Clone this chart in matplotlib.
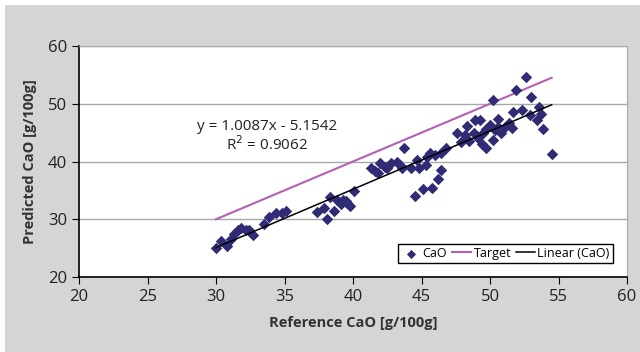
import matplotlib
matplotlib.use("Agg")
import matplotlib.pyplot as plt
from matplotlib.patches import Rectangle
import numpy as np

ref_cao = [30.0, 30.4, 30.8, 31.1, 31.3, 31.6, 31.8, 32.2, 32.4, 32.7, 33.5, 33.9, 34.4, 34.8, 35.1,
           37.4, 37.9, 38.1, 38.3, 38.6, 38.8, 39.1, 39.3, 39.5, 39.6, 39.8, 40.1,
           41.3, 41.6, 41.8, 42.0, 42.3, 42.5, 42.8, 43.2, 43.4, 43.7, 43.6, 44.2, 44.5, 44.7, 44.8,
           45.1, 45.3, 45.4, 45.6, 45.8, 46.0, 46.2, 46.4, 46.4, 46.8,
           47.6, 47.9, 48.2, 48.3, 48.5, 48.8, 48.9, 49.1, 49.3, 49.4, 49.5, 49.7, 49.7, 50.0,
           50.2, 50.2, 50.4, 50.6, 50.6, 50.8, 51.1, 51.4, 51.6, 51.7, 51.9, 52.3, 52.6, 52.9,
           53.0, 53.4, 53.6, 53.7, 53.9, 54.5]
pred_cao = [25.1, 26.2, 25.4, 26.5, 27.5, 28.1, 28.5, 28.2, 28.1, 27.2, 29.1, 30.4, 31.0, 31.0, 31.4,
            31.2, 32.0, 30.0, 33.9, 31.4, 33.3, 32.7, 33.4, 33.1, 32.6, 32.3, 34.9,
            38.8, 38.4, 38.0, 39.7, 39.1, 38.8, 39.7, 39.9, 39.4, 42.4, 38.8, 38.8, 34.0, 40.3, 38.9,
            35.3, 39.4, 40.8, 41.4, 35.4, 41.2, 36.9, 38.6, 41.4, 42.3,
            45.0, 43.4, 44.6, 46.1, 43.6, 44.9, 47.1, 44.0, 47.1, 43.0, 45.0, 42.3, 45.7, 46.3,
            43.8, 50.6, 45.4, 47.3, 45.9, 45.0, 46.0, 46.7, 45.8, 48.6, 52.4, 48.9, 54.6, 48.0,
            51.2, 47.1, 49.5, 48.3, 45.7, 41.3]

target_x = [30, 54.5]
fit_slope = 1.0087
fit_intercept = -5.1542
x_ticks = [20, 25, 30, 35, 40, 45, 50, 55, 60]
y_ticks = [20, 30, 40, 50, 60]

plt.rcParams['font.family'] = ['Open Sans', 'DejaVu Sans']

fig = plt.figure(figsize=(6.4, 3.52), dpi=100)
fig.patches.append(Rectangle((5/640, 0), 1, 1 - 5/352, transform=fig.transFigure,
                             facecolor='#d4d5d7', edgecolor='none', zorder=-10))
ax = fig.add_axes([79/640, 1 - 277/352, 548/640, 231/352])
ax.set_facecolor('white')

ax.set_xlim(20, 60)
ax.set_ylim(20, 60)
ax.set_xticks(x_ticks)
ax.set_yticks(y_ticks)
ax.yaxis.grid(True, color='#a8a8a8', linewidth=1)
ax.set_axisbelow(True)

ax.scatter(ref_cao, pred_cao, marker='D', s=34, color='#2f2b74', zorder=3, label='CaO', linewidths=0)
tx = np.array(target_x)
ax.plot(tx, tx, color='#b45fb4', linewidth=1.5, label='Target', zorder=2)
ax.plot(tx, fit_slope * tx + fit_intercept, color='black', linewidth=1.1, label='Linear (CaO)', zorder=4)

ax.text(33.7, 46.0, 'y = 1.0087x - 5.1542', ha='center', va='center', fontsize=11, color='#222222')
ax.text(33.7, 43.0, r'R$^2$ = 0.9062', ha='center', va='center', fontsize=11, color='#222222')

for s in ['top', 'right']:
    ax.spines[s].set_color('#a8a8a8')
for s in ['left', 'bottom']:
    ax.spines[s].set_color('black')
    ax.spines[s].set_linewidth(1.2)
ax.tick_params(axis='both', direction='out', length=5, labelsize=12, colors='black',
               labelcolor='#222222')

ax.set_xlabel('Reference CaO [g/100g]', fontsize=10.5, fontweight='bold', color='#333333', labelpad=8)
ax.set_ylabel('Predicted CaO [g/100g]', fontsize=10.5, fontweight='bold', color='#333333', labelpad=8)

leg = ax.legend(loc='lower right', ncol=3, fontsize=9, frameon=True, fancybox=False,
                edgecolor='black', framealpha=1, handlelength=1.5, handletextpad=0.2,
                columnspacing=0.4, borderpad=0.25, borderaxespad=0,
                bbox_to_anchor=(0.974, 0.061), markerscale=0.8)
leg.get_frame().set_linewidth(1)

fig.savefig('out.png', dpi=100)
